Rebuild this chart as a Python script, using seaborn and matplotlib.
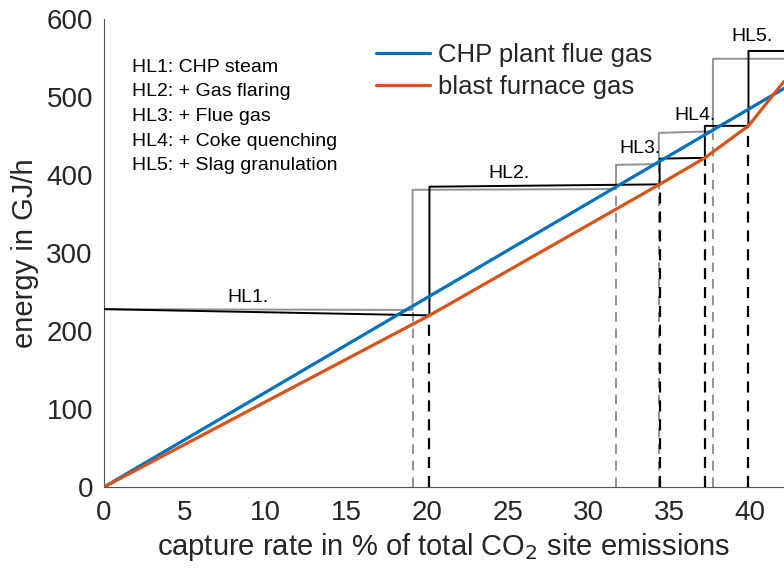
import numpy as np
import pandas as pd
import matplotlib
matplotlib.use("Agg")
import matplotlib.pyplot as plt
import seaborn as sns

sns.set_theme(style="white")
plt.rcParams["font.family"] = ["Liberation Sans", "DejaVu Sans"]

# Heat demand curves of the capture process (capture rate in %, energy in GJ/h)
blue_x = [0.0, 42.1]
blue_y = [0.0, 511.0]
orange_x = [0.0, 20.15, 34.4, 37.2, 39.9, 42.1]
orange_y = [0.0, 220.0, 388.0, 422.0, 463.0, 520.0]

# Cumulative available heat levels (step lines)
black_x = [0.0, 20.15, 20.15, 34.4, 34.4, 37.2, 37.2, 39.9, 39.9, 42.1]
black_y = [228.0, 220.0, 385.0, 388.0, 421.0, 422.0, 463.0, 463.0, 559.0, 559.0]
gray_x = [0.0, 19.1, 19.1, 31.7, 31.7, 34.35, 34.35, 37.7, 37.7, 42.1]
gray_y = [228.0, 227.0, 381.0, 382.0, 413.0, 414.0, 454.0, 456.0, 549.0, 549.0]

# Drop-lines to the capture-rate axis
black_drop_x = [20.15, 34.4, 37.2, 39.9]
black_drop_y = [220.0, 388.0, 422.0, 463.0]
gray_drop_x = [19.1, 31.7, 34.35, 37.7]
gray_drop_y = [227.0, 382.0, 413.0, 454.0]

level_labels = ["HL1.", "HL2.", "HL3.", "HL4.", "HL5."]
level_label_x = [8.9, 25.1, 33.2, 36.6, 40.1]
level_label_y = [237, 396, 428, 470, 572]

level_notes = ["HL1: CHP steam", "HL2: + Gas flaring", "HL3: + Flue gas",
               "HL4: + Coke quenching", "HL5: + Slag granulation"]

series_names = ["CHP plant flue gas", "blast furnace gas"]
series_colors = ["#0072BD", "#D95319"]

W, H = 784, 570
AX_L, AX_T, AX_B = 104, 19, 487
fig = plt.figure(figsize=(W / 100, H / 100), dpi=100)
ax = fig.add_axes([AX_L / W, (H - AX_B) / H, 1 - AX_L / W, (AX_B - AX_T) / H])


def ax_y(py):
    return 1 - (py - AX_T) / (AX_B - AX_T)


curves = pd.concat([
    pd.DataFrame({"x": blue_x, "y": blue_y, "source": series_names[0]}),
    pd.DataFrame({"x": orange_x, "y": orange_y, "source": series_names[1]}),
])

gray = "#929292"
# step lines
sns.lineplot(x=gray_x, y=gray_y, sort=False, estimator=None, color=gray,
             lw=1.4, ax=ax, legend=False, zorder=2)
for xv, yv in zip(gray_drop_x, gray_drop_y):
    ax.plot([xv, xv], [0, yv], color=gray, lw=1.4, ls=(0, (5, 3.5)), zorder=2)
sns.lineplot(x=black_x, y=black_y, sort=False, estimator=None, color="black",
             lw=1.4, ax=ax, legend=False, zorder=3)
for xv, yv in zip(black_drop_x, black_drop_y):
    ax.plot([xv, xv], [0, yv], color="black", lw=1.6, ls=(0, (5, 3.5)), zorder=3)

sns.lineplot(data=curves, x="x", y="y", hue="source", palette=series_colors,
             sort=False, estimator=None, lw=2.3, ax=ax, zorder=4)

for lab, lx, ly in zip(level_labels, level_label_x, level_label_y):
    ax.text(lx, ly, lab, ha="center", va="baseline", fontsize=14, color="black")

note_baselines = [72, 96.5, 121, 146, 170.5]
for note, py in zip(level_notes, note_baselines):
    ax.text((131.7 - AX_L) / 680, ax_y(py), note, transform=ax.transAxes,
            fontsize=14, color="black", va="baseline", ha="left")

handles, labels = ax.get_legend_handles_labels()
ax.legend(handles, labels, loc="upper left",
          bbox_to_anchor=((376 - AX_L) / 680, ax_y(43)),
          frameon=False, fontsize=18.5, handlelength=2.1, handletextpad=0.3,
          labelspacing=0.3, borderaxespad=0, borderpad=0)

ax.set_xlim(0, 42.1)
ax.set_ylim(0, 600)
ax.set_xticks(np.arange(0, 41, 5))
ax.set_yticks(np.arange(0, 601, 100))
ax.tick_params(axis="both", direction="in", length=5, width=0.8, color="#555555",
               labelsize=20, labelcolor="#262626")
ax.tick_params(axis="x", pad=9)
ax.tick_params(axis="y", pad=8)
ax.set_xlabel("capture rate in % of total CO$_2$ site emissions", fontsize=21,
              color="#262626", labelpad=4)
ax.set_ylabel("energy in GJ/h", fontsize=21, color="#262626", labelpad=5)
for side in ["top", "right"]:
    ax.spines[side].set_visible(False)
for side in ["left", "bottom"]:
    ax.spines[side].set_color("#555555")
    ax.spines[side].set_linewidth(0.8)

fig.savefig("out.png", dpi=100)
